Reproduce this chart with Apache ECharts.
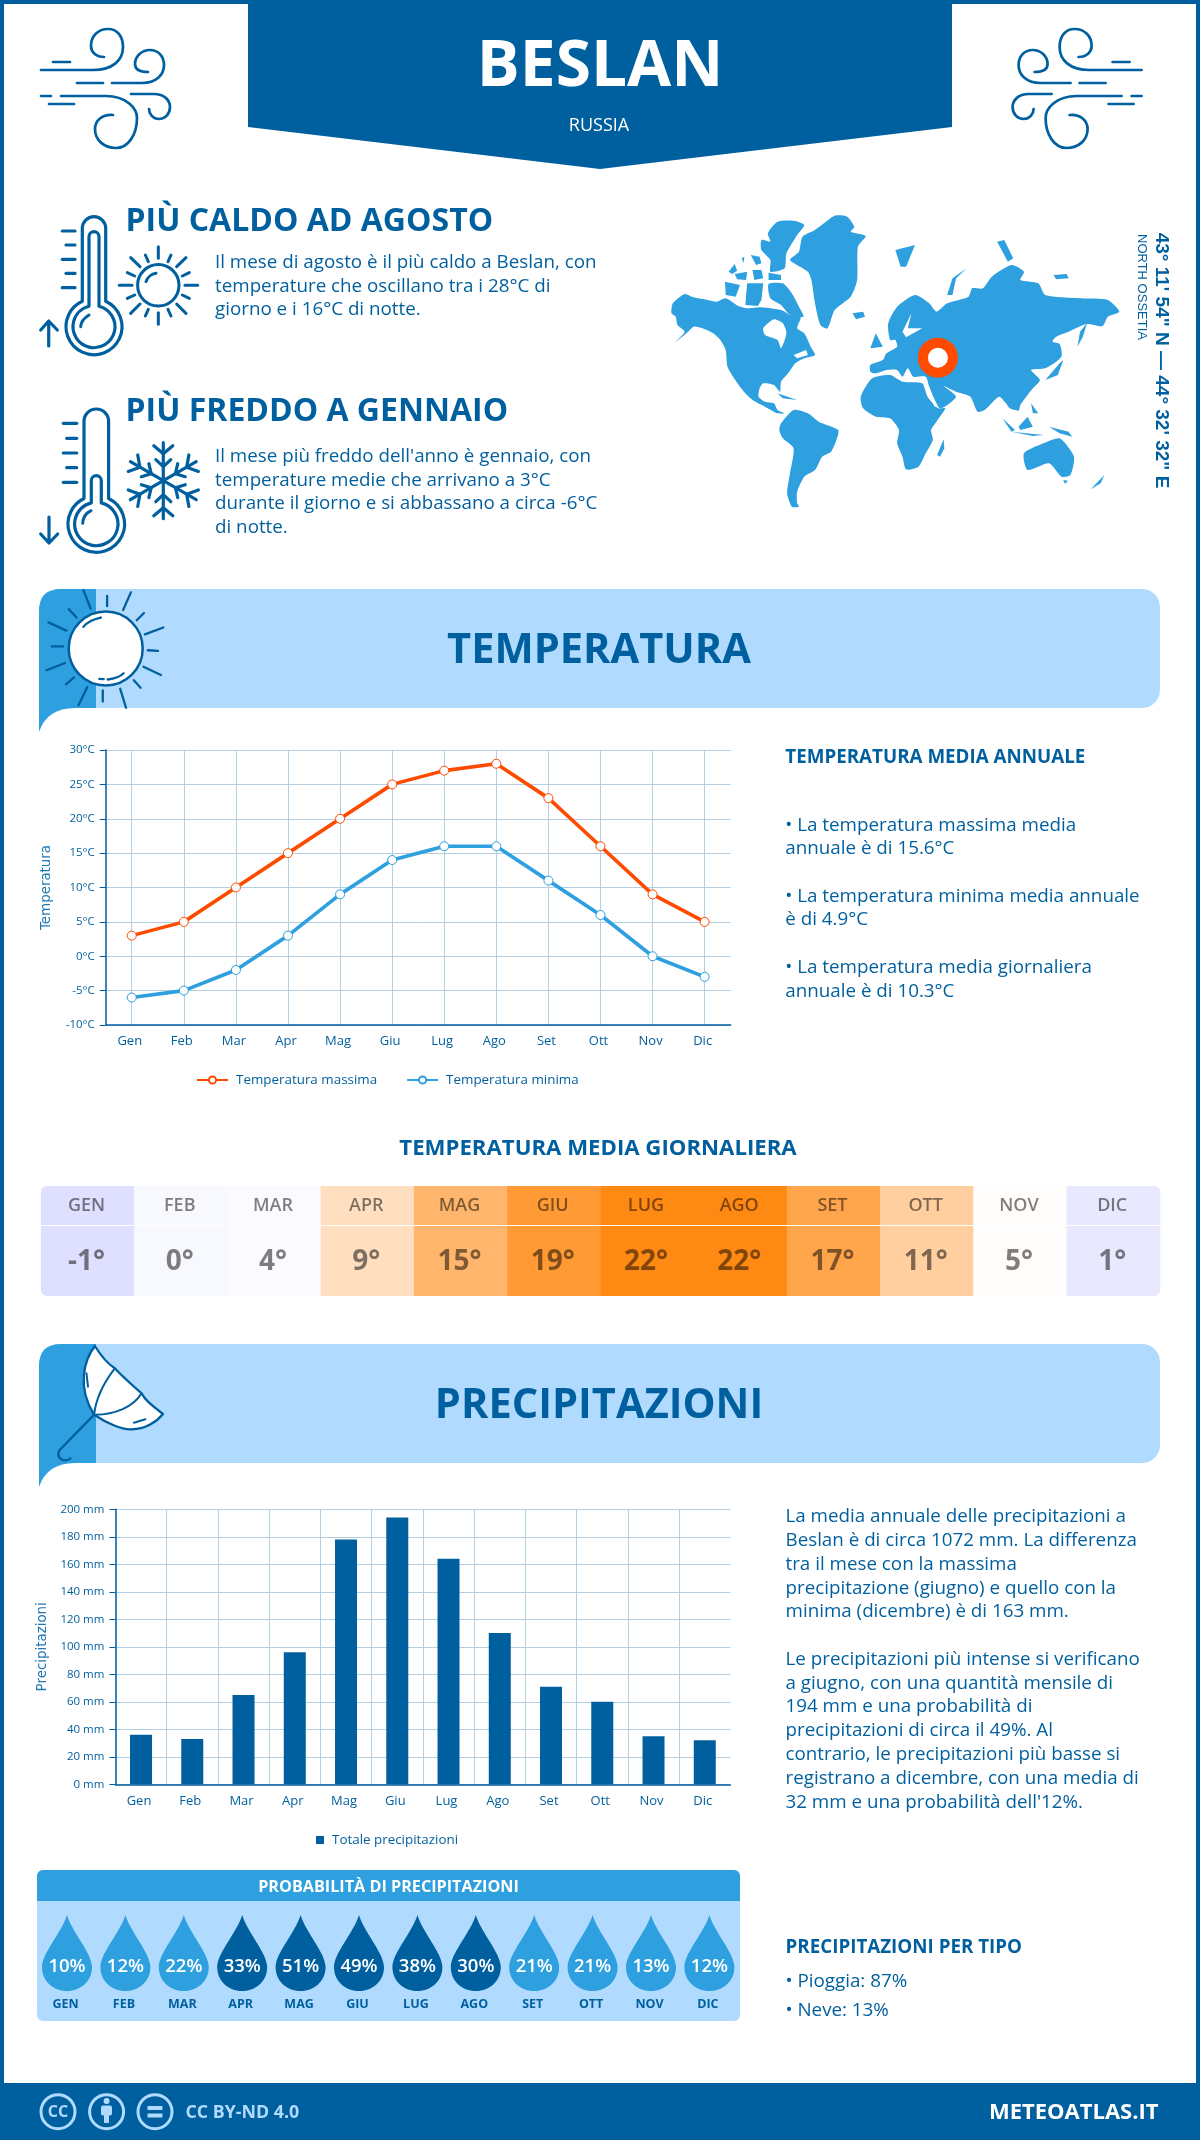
<!DOCTYPE html>
<html>
<head>
<meta charset="utf-8">
<style>html,body{margin:0;padding:0;background:#fff}#c{width:1200px;height:2140px}</style>
<script src="https://cdn.jsdelivr.net/npm/echarts@6/dist/echarts.min.js"></script>
</head>
<body>
<div id="c"></div>
<script>
const months = ['Gen','Feb','Mar','Apr','Mag','Giu','Lug','Ago','Set','Ott','Nov','Dic'];
const monthCodes = ['GEN','FEB','MAR','APR','MAG','GIU','LUG','AGO','SET','OTT','NOV','DIC'];
const tempMax = [3,5,10,15,20,25,27,28,23,16,9,5];
const tempMin = [-6,-5,-2,3,9,14,16,16,11,6,0,-3];
const dailyMean = [-1,0,4,9,15,19,22,22,17,11,5,1];
const precipMm = [36,33,65,96,178,194,164,110,71,60,35,32];
const rainProb = [10,12,22,33,51,49,38,30,21,21,13,12];
const heatColors = ['#dfdfff','#f8f8ff','#fbfbff','#ffdfc0','#ffb56b','#ff9a35','#ff8a13','#ff8a13','#ffa64d','#ffcf9f','#fffdfb','#e8e8ff'];

const DARK='#005f9e', LIGHT='#2e9fdf', PALE='#b0dbff', ORANGE='#ff4b00', GRID='#b3cfe3';
const FONT='"Open Sans"';

const els=[];
function T(text,x,y,size,weight,fill,align,extra){
  const rotated=extra&&extra.rotation;
  const o=Object.assign({type:'text',x:x,y:rotated?y:y+2,style:{text:text,fontFamily:FONT,fontSize:size,fontWeight:weight,fill:fill,
    align:align||'left',verticalAlign:'middle',textAlign:align||'left',textVerticalAlign:'middle'}},extra||{});
  if(extra&&extra.fontFamily){o.style.fontFamily=extra.fontFamily;delete o.fontFamily;}
  return o;
}
function R(x,y,w,h,fill,r){return {type:'rect',shape:{x:x,y:y,width:w,height:h,r:r||0},style:{fill:fill}};}
function P(d,stroke,lw,fill){return {type:'path',shape:{pathData:d},style:{stroke:stroke||null,lineWidth:lw||0,fill:fill||null,lineCap:'round',lineJoin:'round'}};}
function tx(d,sx,sy,ox,oy){return d.replace(/(-?[\d.]+)[ ,](-?[\d.]+)/g,(m,x,y)=>((+x)/sx+ox).toFixed(2)+' '+((+y)/sy+oy).toFixed(2));}
function PG(points,fill,sx,sy,ox,oy){return {type:'polygon',shape:{points:points.map(p=>[p[0]/sx+ox,p[1]/sy+oy]),smooth:points.length>=6?0.22:0},style:{fill:fill}};}

/* page frame */
els.push(R(0,0,1200,4,DARK),R(0,0,4,2140,DARK),R(1196,0,4,2140,DARK));
els.push(R(0,2083,1200,57,DARK));

/* header banner */
els.push({type:'polygon',shape:{points:[[248,0],[952,0],[952,127],[600,169],[248,127]]},style:{fill:DARK}});
els.push(T('BESLAN',600,66,64,700,'#fff','center'));
els.push(T('RUSSIA',599,123.5,18,400,'#fff','center'));

/* wind icons */
function wind(){
  const d=['M40 70 L92 70 C112 70 122 60 122 47 C122 36 116 29 107 29 C97 29 90 36 90 46 C90 52 95 57 103 57',
  'M52 62 L69 62','M76 83 L102 83',
  'M111 83 L141 83 C155 83 163 75 163 65 C163 56 157 50 149 50 C141 50 134 56 134 64 C134 69 138 72 147 72',
  'M40 96 L50 96 M60 96 L105 96 C125 96 136 108 136 118 C136 135 127 148 115 148 C103 148 94 140 94 129 C94 120 102 114 112 115',
  'M130 94 L153 94 C163 94 169 100 169 107 C169 114 164 119 158 119 C152 119 148 114 148 109',
  'M48 104 L73 104'];
  return d.map(s=>P(s,DARK,2.7));
}
els.push({type:'group',x:1,children:wind()});
els.push({type:'group',x:1181.6,scaleX:-1,children:wind()});

/* thermometers */
function therm(cx,cy,hw,top,R1,ihw,itop,R2,ticks,xl,xs,xr,arrow,hl){
  const a=[];
  const sh=(r,h)=>Math.sqrt(r*r-h*h);
  const o=cy-sh(R1,hw), i=cy-sh(R2,ihw);
  a.push(P(`M${cx-hw} ${o} L${cx-hw} ${top+hw} A${hw} ${hw} 0 0 1 ${cx+hw} ${top+hw} L${cx+hw} ${o} A${R1} ${R1} 0 1 1 ${cx-hw} ${o} Z`,DARK,3.2));
  a.push(P(`M${cx-ihw} ${i} L${cx-ihw} ${itop+ihw} A${ihw} ${ihw} 0 0 1 ${cx+ihw} ${itop+ihw} L${cx+ihw} ${i} A${R2} ${R2} 0 1 1 ${cx-ihw} ${i} Z`,DARK,3.2));
  ticks.forEach((y,k)=>a.push(P(`M${k%2?xs:xl} ${y} L${xr} ${y}`,DARK,3.2)));
  a.push(P(arrow,DARK,3.2));
  a.push(P(hl,DARK,3));
  return a;
}
els.push(...therm(94,326.7,11.7,216.7,28,5,231.7,21,[231,245,259.3,273.3,287.7],62.3,66,75,
  'M48.7 346 L48.7 321 M40.7 330 L48.7 321 L57.3 330','M89 315 C84 318 81 322 80.7 326.7'));
els.push(...therm(96.3,524,12.3,409,28.3,5,475.7,21.7,[423.3,438.3,453,467.7,482.3],63.3,66.7,76.7,
  'M49 517 L49 543 M40.7 534 L49 543 L57.7 534','M91 510.7 C86 513 83 518 82.7 523.3'));

/* small sun */
els.push({type:'circle',shape:{cx:158.3,cy:285.3,r:20.7},style:{stroke:DARK,lineWidth:3,fill:null}});
els.push(P(tx('M348 245 C352 232 365 222 378 220',3,3,30,200),DARK,3));
[[385,140,385,175],[385,338,385,373],[268,256,306,256],[465,256,503,256],[468,173,440,200],[302,173,330,200],[468,340,440,312],[302,340,330,312],
 [346,165,355,185],[423,165,414,185],[292,218,314,228],[478,218,457,228],[292,295,314,285],[478,295,457,285],[346,348,355,328],[423,348,414,328]]
 .forEach(l=>els.push(P(tx(`M${l[0]} ${l[1]} L${l[2]} ${l[3]}`,3,3,30,200),DARK,3)));

/* snowflake */
(function(){
  const cx=163.3,cy=480.7;
  for(let k=0;k<6;k++){
    const c=Math.cos(k*Math.PI/3),s=Math.sin(k*Math.PI/3);
    const pt=(d,p)=>(cx+d*s+p*c).toFixed(2)+' '+(cy-d*c+p*s).toFixed(2);
    els.push(P(`M${pt(0,0)} L${pt(38,0)}`,DARK,3.2));
    els.push(P(`M${pt(35,-9.5)} L${pt(27,0)} L${pt(35,9.5)}`,DARK,3.2));
    els.push(P(`M${pt(21,-7.5)} L${pt(14,0)} L${pt(21,7.5)}`,DARK,3.2));
  }
})();

/* headlines */
const hotLines=['Il mese di agosto è il più caldo a Beslan, con','temperature che oscillano tra i 28°C di','giorno e i 16°C di notte.'];
const coldLines=["Il mese più freddo dell'anno è gennaio, con",'temperature medie che arrivano a 3°C','durante il giorno e si abbassano a circa -6°C','di notte.'];
els.push(T('PIÙ CALDO AD AGOSTO',125.5,219.5,32,700,DARK));
hotLines.forEach((s,i)=>els.push(T(s,215,261+i*23.5,18.8,400,DARK)));
els.push(T('PIÙ FREDDO A GENNAIO',125.5,409.5,32,700,DARK));
coldLines.forEach((s,i)=>els.push(T(s,215,454.5+i*23.7,18.8,400,DARK)));

/* world map */
const worldShapes=[
 [[515,70],[545,47],[580,50],[600,80],[590,95],[632,108],[610,140],[608,240],[590,290],[545,330],[525,385],[505,375],[490,310],[480,240],[470,215],[420,180],[445,155],[455,110],[490,90]],
 [[358,100],[385,65],[430,62],[460,75],[440,105],[410,160],[405,205],[365,215],[365,180],[340,150],[340,120],[365,125]],
 [[248,215],[265,192],[272,212],[258,222]],[[265,222],[300,215],[297,240],[272,238]],[[315,210],[340,210],[345,235],[320,240]],
 [[360,218],[395,225],[395,240],[360,240]],[[238,245],[280,255],[268,290],[240,285]],[[300,250],[345,250],[340,300],[330,318],[295,315]],
 [[285,175],[292,170],[290,190]],[[310,165],[335,170],[340,190],[325,195]],
 [[360,252],[400,250],[425,280],[445,320],[458,350],[420,345],[395,315],[365,295]],
 [[88,340],[92,310],[125,282],[150,292],[190,300],[215,305],[240,295],[275,318],[300,325],[340,322],[400,332],[420,345],[450,352],[440,385],[460,400],[478,440],[490,465],[460,475],[435,490],[415,520],[395,545],[392,575],[375,555],[345,550],[335,565],[332,590],[350,605],[375,610],[385,630],[405,640],[385,640],[350,620],[315,600],[295,580],[270,545],[245,500],[240,450],[225,420],[205,400],[175,385],[150,380],[135,395],[100,425],[125,395],[105,375],[100,350]],
 [[395,670],[430,630],[470,640],[500,665],[555,690],[550,720],[535,755],[510,770],[490,810],[460,830],[440,875],[440,910],[445,920],[425,920],[412,880],[420,820],[430,745],[400,715],[390,690]],
 [[618,590],[650,535],[700,525],[735,545],[790,550],[805,590],[835,625],[855,625],[830,665],[815,690],[820,720],[800,760],[780,800],[745,808],[735,770],[720,730],[725,690],[700,655],[660,650],[625,625]],
 [[832,765],[850,718],[852,745],[840,770]],
 [[645,495],[680,480],[690,460],[720,440],[715,420],[700,420],[695,370],[720,320],[770,285],[810,310],[830,335],[860,310],[920,290],[930,265],[960,265],[985,230],[1040,195],[1075,215],[1065,240],[1115,250],[1135,285],[1235,295],[1310,300],[1342,335],[1310,350],[1295,378],[1250,372],[1200,395],[1165,410],[1155,425],[1175,432],[1180,470],[1135,505],[1095,510],[1120,540],[1100,565],[1085,585],[1065,615],[1060,632],[1035,625],[1025,610],[1005,590],[965,630],[945,635],[925,590],[885,575],[850,558],[885,590],[840,625],[810,560],[800,530],[765,530],[750,505],[735,530],[720,510],[690,510],[660,520],[645,515]],
 [[660,400],[680,440],[645,445]],[[595,340],[625,335],[630,350],[605,358]],[[715,150],[770,135],[745,200],[730,200]],
 [[860,285],[875,235],[915,205],[885,235],[875,285]],[[1000,125],[1020,120],[1045,175],[1030,185]],
 [[1135,540],[1175,490],[1185,480],[1170,525]],[[1225,440],[1232,395],[1252,368],[1240,410]],[[1015,655],[1050,690],[1040,695]],[[1060,680],[1085,650],[1100,680],[1065,690]],
 [[1040,695],[1130,705],[1100,708]],[[1095,610],[1115,640],[1100,640]],[[1145,680],[1200,695],[1210,710],[1175,700]],
 [[1075,760],[1130,730],[1175,715],[1215,770],[1205,825],[1180,830],[1145,790],[1085,810]],[[1185,840],[1198,842],[1190,852]],
 [[1262,868],[1300,825],[1290,850]],[[385,580],[440,600],[400,595]],[[1158,225],[1195,222],[1200,235],[1165,238]]
];
const mapGaps=[
 [[345,385],[375,358],[400,370],[410,400],[395,445],[385,420],[350,405]],
 [[430,465],[465,450],[470,465],[440,475]],
 [[735,395],[760,340],[750,385],[790,385],[745,412]],
 [[795,555],[825,620],[835,620],[805,560]]
];
worldShapes.forEach(s=>els.push(PG(s,LIGHT,2.8,3,640,200)));
mapGaps.forEach(s=>els.push(PG(s,'#fff',2.8,3,640,200)));
els.push({type:'circle',shape:{cx:937.9,cy:357.7,r:15},style:{stroke:ORANGE,lineWidth:10,fill:'#fff'}});
els.push(T('43° 11\' 54" N — 44° 32\' 32" E',1161.5,360.5,19,700,DARK,'center',{rotation:-Math.PI/2,fontFamily:'"Liberation Sans"'}));
els.push(T('NORTH OSSETIA',1142,287,13,400,DARK,'center',{rotation:-Math.PI/2,fontFamily:'"Liberation Sans"'}));

/* section banners */
function banner(top,title){
  const bot=top+119;
  els.push(R(39,top,1121,119,PALE,[22,18,18,0]));
  els.push(P(`M39 ${bot+24} L39 ${top+22} Q39 ${top} 61 ${top} L96 ${top} L96 ${bot} L75 ${bot} Q47 ${bot} 39 ${bot+24} Z`,null,0,LIGHT));
  els.push(T(title,599,top+60,41.6,700,DARK,'center'));
}
banner(589,'TEMPERATURA');
banner(1344,'PRECIPITAZIONI');

/* banner sun */
els.push({type:'circle',shape:{cx:105.7,cy:648.5,r:37},style:{fill:'#fff',stroke:DARK,lineWidth:2.5}});
[[172,58,187,112],[221,75,221,105],[270,65,254,116],[297,125,282,146],[337,167,299,187],[305,233,326,235],[296,281,332,305],[276,320,290,342],[248,345,260,400],[212,350,212,382],[180,340,162,393],[153,312,136,332],[134,270,96,291],[107,222,130,222],[137,176,100,152],[158,138,142,114]]
 .forEach(l=>els.push(P(tx(`M${l[0]} ${l[1]} L${l[2]} ${l[3]}`,2.063,2.904,0,570),DARK,2.3)));
els.push(P(tx('M172 165 C180 150 195 142 208 138',2.063,2.904,0,570),DARK,2.3));
els.push(P(tx('M222 318 C235 316 248 310 255 300',2.063,2.904,0,570),DARK,2.3));
els.push(P(tx('M205 316 L214 317',2.063,2.904,0,570),DARK,2.3));

/* umbrella */
const U=d=>tx(d,1.307,3,0,1120);
els.push(P(U('M124 678 C110 720 100 800 123 884 C140 910 160 930 172 928 C190 928 205 905 213 882 C195 850 190 840 185 820 C175 800 160 770 150 745 C140 730 130 700 124 678 Z'),DARK,2.3,'#fff'));
els.push(P(U('M150 745 C135 790 125 840 123 884'),DARK,2));
els.push(P(U('M185 820 C175 860 150 885 123 884'),DARK,2));
els.push(P(U('M113 760 L115 800'),DARK,2));
els.push(P(U('M175 908 L190 898'),DARK,2));
els.push(P(U('M123 884 L78 990 C72 1015 85 1030 92 1015'),DARK,2.3));

/* temperature side text */
els.push(T('TEMPERATURA MEDIA ANNUALE',785.3,756,18.8,700,DARK));
const tempNotes=[['• La temperatura massima media',823.5],['annuale è di 15.6°C',847],['• La temperatura minima media annuale',894.5],['è di 4.9°C',918],['• La temperatura media giornaliera',965.5],['annuale è di 10.3°C',989.5]];
tempNotes.forEach(n=>els.push(T(n[0],785.3,n[1],18.8,400,DARK)));
els.push(T('TEMPERATURA MEDIA GIORNALIERA',598,1146.5,22.2,700,DARK,'center'));

/* precipitation side text */
const precipNotes=[['La media annuale delle precipitazioni a',1515],['Beslan è di circa 1072 mm. La differenza',1538.5],['tra il mese con la massima',1562.5],['precipitazione (giugno) e quello con la',1586.3],['minima (dicembre) è di 163 mm.',1610],
 ['Le precipitazioni più intense si verificano',1657.3],['a giugno, con una quantità mensile di',1681.3],['194 mm e una probabilità di',1705],['precipitazioni di circa il 49%. Al',1728.5],['contrario, le precipitazioni più basse si',1752.3],['registrano a dicembre, con una media di',1776.3],["32 mm e una probabilità dell'12%.",1800.5]];
precipNotes.forEach(n=>els.push(T(n[0],785.5,n[1],18.8,400,DARK)));
els.push(T('PRECIPITAZIONI PER TIPO',785.5,1946,18.8,700,DARK));
els.push(T('• Pioggia: 87%',785.5,1980,18.8,400,DARK));
els.push(T('• Neve: 13%',785.5,2008.5,18.8,400,DARK));

/* probability panel */
els.push(R(37,1870,703,151,PALE,6));
els.push(R(37,1870,703,31,LIGHT,[6,6,0,0]));
els.push(T('PROBABILITÀ DI PRECIPITAZIONI',388.5,1885,16.2,700,'#fff','center'));

/* footer */
[58,106.6,155].forEach(x=>els.push({type:'circle',shape:{cx:x,cy:2111.7,r:17},style:{stroke:PALE,lineWidth:3,fill:null}}));
els.push(T('CC',58,2110,16,700,PALE,'center'));
els.push({type:'circle',shape:{cx:106.6,cy:2101,r:3},style:{fill:PALE}});
els.push(R(101,2105.5,11,10,PALE,2),R(104,2112,5,11,PALE));
els.push(R(147.5,2106,15,4,PALE),R(147.5,2113.5,15,4,PALE));
els.push(T('CC BY-ND 4.0',185.5,2111,17.8,700,PALE));
els.push(T('METEOATLAS.IT',1158.5,2110.5,22,700,'#fff','right'));

/* heat table cell renderer */
function heatCell(labels,fontSize,fontWeight,topRow,dy){
  return function(params,api){
    const i=api.value(0), c=api.coord([i,0]), s=api.size([1,1]);
    const r=[0,0,0,0];
    if(i===0) r[topRow?0:3]=6;
    if(i===11) r[topRow?1:2]=6;
    return {type:'group',children:[
      {type:'rect',shape:{x:c[0]-s[0]/2,y:c[1]-s[1]/2,width:s[0]+0.5,height:s[1],r:r},style:{fill:heatColors[i]}},
      {type:'text',x:c[0]-1,y:c[1]+dy,style:{text:labels(i),fontFamily:FONT,fontSize:fontSize,fontWeight:fontWeight,fill:'rgba(0,0,0,0.5)',align:'center',verticalAlign:'middle',textAlign:'center',textVerticalAlign:'middle'}}
    ]};
  };
}

const DROP='path://M25 0 C30 17 50 38 50 52 C50 66 39 76 25 76 C11 76 0 66 0 52 C0 38 20 17 25 0 Z';
const tickLabel={color:DARK,fontFamily:FONT,fontSize:11.5};
const nameStyle={color:'#1f78b4',fontFamily:'"DejaVu Sans"',fontSize:13.4};

const option={
  animation:false,
  backgroundColor:'#fff',
  textStyle:{fontFamily:FONT},
  grid:[
    {left:105.7,top:750,width:625,height:275},
    {left:115.4,top:1509.3,width:615,height:275},
    {left:40.9,top:1186,width:1118.9,height:39},
    {left:40.9,top:1226,width:1118.9,height:70},
    {left:37.8,top:1905,width:700.8,height:96}
  ],
  xAxis:[
    {gridIndex:0,type:'category',data:months,axisLine:{onZero:false,lineStyle:{color:DARK,width:1.5}},axisTick:{show:false},
     axisLabel:{color:DARK,fontFamily:FONT,fontSize:13,margin:10,padding:[0,4,0,0],interval:0},
     splitLine:{show:true,alignWithLabel:true,interval:0,lineStyle:{color:GRID,width:1}}},
    {gridIndex:1,type:'category',data:months,axisLine:{lineStyle:{color:DARK,width:1.5}},axisTick:{show:false},
     axisLabel:{color:DARK,fontFamily:FONT,fontSize:13,margin:10,padding:[0,4,0,0],interval:0},
     splitLine:{show:true,interval:0,showMaxLine:false,lineStyle:{color:GRID,width:1}}},
    {gridIndex:2,type:'category',data:monthCodes,show:false},
    {gridIndex:3,type:'category',data:monthCodes,show:false},
    {gridIndex:4,type:'category',data:monthCodes,z:5,axisLine:{show:false},axisTick:{show:false},
     axisLabel:{color:DARK,fontFamily:FONT,fontSize:12.5,fontWeight:700,margin:-3,padding:[0,3,0,0],interval:0}}
  ],
  yAxis:[
    {gridIndex:0,type:'value',min:-10,max:30,interval:5,name:'Temperatura',nameLocation:'middle',nameRotate:90,nameGap:53,nameTextStyle:nameStyle,
     axisLine:{show:true,lineStyle:{color:DARK,width:1.5}},axisTick:{show:true,length:6,lineStyle:{color:DARK}},
     axisLabel:Object.assign({},tickLabel,{margin:11,formatter:v=>v+'°C'}),splitLine:{lineStyle:{color:GRID,width:1}}},
    {gridIndex:1,type:'value',min:0,max:200,interval:20,name:'Precipitazioni',nameLocation:'middle',nameRotate:90,nameGap:62.5,nameTextStyle:nameStyle,
     axisLine:{show:true,lineStyle:{color:DARK,width:1.5}},axisTick:{show:true,length:6,lineStyle:{color:DARK}},
     axisLabel:Object.assign({},tickLabel,{margin:11,formatter:v=>v+' mm'}),splitLine:{lineStyle:{color:GRID,width:1}}},
    {gridIndex:2,type:'category',data:['h'],show:false},
    {gridIndex:3,type:'category',data:['v'],show:false},
    {gridIndex:4,type:'value',min:-1,max:1,show:false}
  ],
  legend:[
    {left:196,top:1073.5,padding:0,itemWidth:31,itemHeight:9,itemGap:29,data:['Temperatura massima','Temperatura minima'],
     textStyle:{color:DARK,fontFamily:FONT,fontSize:13.4,padding:[0,0,0,3]}},
    {left:316,top:1833.5,padding:0,itemWidth:8,itemHeight:8,icon:'rect',data:['Totale precipitazioni'],
     textStyle:{color:DARK,fontFamily:FONT,fontSize:13.4,padding:[0,0,0,3]}}
  ],
  series:[
    {type:'custom',name:'decor',coordinateSystem:'none',silent:true,z:1,data:[0],clip:false,
     renderItem:()=>({type:'group',children:els})},
    {type:'line',name:'Temperatura massima',xAxisIndex:0,yAxisIndex:0,data:tempMax,z:3,color:ORANGE,
     symbol:'circle',symbolSize:9,lineStyle:{color:ORANGE,width:3.6},itemStyle:{color:'#fff',borderColor:ORANGE,borderWidth:1}},
    {type:'line',name:'Temperatura minima',xAxisIndex:0,yAxisIndex:0,data:tempMin,z:3,color:LIGHT,
     symbol:'circle',symbolSize:9,lineStyle:{color:LIGHT,width:3.6},itemStyle:{color:'#fff',borderColor:LIGHT,borderWidth:1}},
    {type:'bar',name:'Totale precipitazioni',xAxisIndex:1,yAxisIndex:1,data:precipMm,barWidth:22,itemStyle:{color:DARK},z:3},
    {type:'custom',name:'Mesi',xAxisIndex:2,yAxisIndex:2,z:3,data:dailyMean.map((v,i)=>[i,0,v]),encode:{x:0,y:1},
     renderItem:heatCell(i=>monthCodes[i],18,600,true,0)},
    {type:'custom',name:'Temperatura media giornaliera',xAxisIndex:3,yAxisIndex:3,z:3,data:dailyMean.map((v,i)=>[i,0,v]),encode:{x:0,y:1},
     renderItem:heatCell(i=>dailyMean[i]+'°',28,700,false,1)},
    {type:'scatter',name:'Probabilità di precipitazioni',xAxisIndex:4,yAxisIndex:4,z:3,
     data:rainProb.map((v,i)=>[i,0,v]),symbol:DROP,symbolSize:[50,76],
     itemStyle:{color:p=>p.value[2]>=30?DARK:LIGHT,opacity:1},
     label:{show:true,position:'inside',offset:[0,14],color:'#fff',fontFamily:FONT,fontSize:18.5,fontWeight:600,formatter:p=>p.value[2]+'%'}}
  ]
};
const chart=echarts.init(document.getElementById('c'),null,{renderer:'canvas',width:1200,height:2140});
chart.setOption(option);
</script>
</body>
</html>
